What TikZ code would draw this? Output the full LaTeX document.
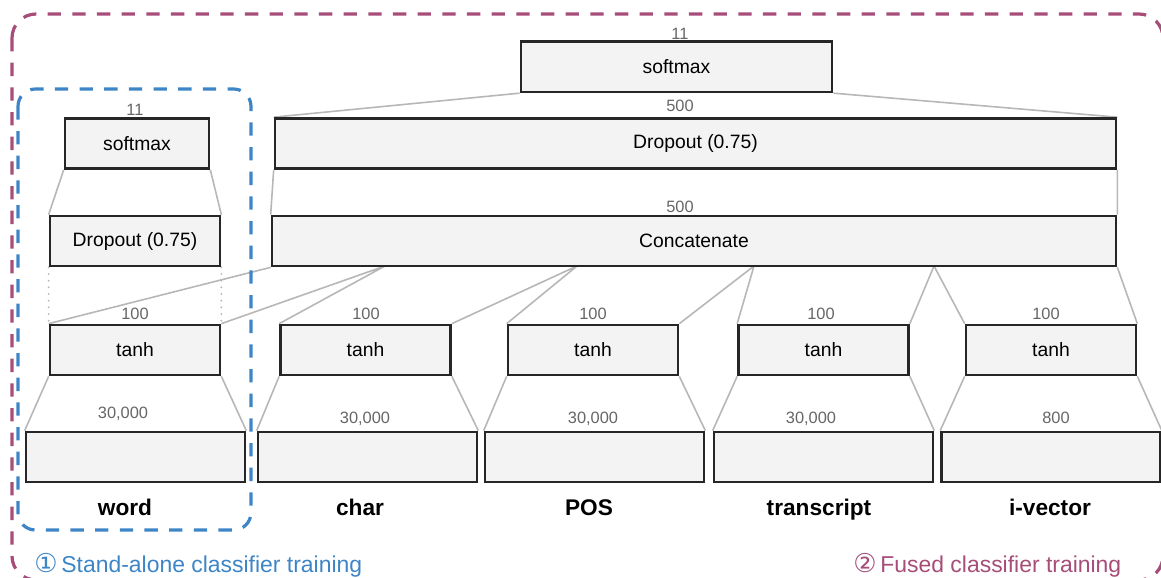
\documentclass[tikz,border=0pt]{standalone}
\usepackage{fontspec}
\setmainfont{Liberation Sans}
\newfontfamily\circfont{DejaVu Sans}
\usepackage{xcolor}
\usepackage{tikz}
\usetikzlibrary{backgrounds}
\definecolor{boxfill}{HTML}{F3F3F3}
\definecolor{wiregray}{HTML}{B7B7B7}
\definecolor{numgray}{HTML}{666666}
\definecolor{soloblue}{HTML}{3D85C6}
\definecolor{fusedplum}{HTML}{A64D79}
\tikzset{layer/.style={draw=black!85,line width=2pt,fill=boxfill,inner sep=0pt,minimum height=37.5pt,font=\fontsize{14.5}{16}\selectfont},tanhbox/.style={layer,minimum width=127.5pt},inbox/.style={layer,minimum width=164.25pt},num/.style={text=numgray,anchor=base,inner sep=0pt,font=\fontsize{12.3}{14}\selectfont},feat/.style={anchor=base,inner sep=0pt,font=\fontsize{17}{19}\selectfont\bfseries},wire/.style={draw=wiregray,line width=1.2pt},group/.style={line width=2.4pt,dash pattern=on 10pt off 8.5pt},caption/.style={anchor=base west,inner sep=0pt,font=\fontsize{17.2}{19}\selectfont}}

\begin{document}
\begin{tikzpicture}[x=0.75pt,y=-0.75pt]
\useasboundingbox (0,0) rectangle (1161,578);
% training groups
\draw[group,draw=fusedplum,rounded corners=18pt] (12,14) rectangle (1163,580);
\draw[group,draw=soloblue,rounded corners=13pt] (18,89) rectangle (251,530);
\node[caption,text=soloblue] (solo) at (34,572) {{\circfont\fontsize{19.5}{20}\selectfont ①}\,Stand-alone classifier training};
\node[caption,text=fusedplum] (fused) at (853,572) {{\circfont\fontsize{19.5}{20}\selectfont ②}\,Fused classifier training};
% stand-alone head
\node[layer,minimum width=108pt] (sm1) at (137,143.5) {softmax};
\node[layer,minimum width=127.5pt] (dr1) at (135,241) {Dropout (0.75)};
\node[num] (n1) at (135,115) {11};
% fused head
\node[layer,minimum width=233.25pt,minimum height=38pt] (sm2) at (676.5,66.5) {softmax};
\node[layer,minimum width=630.75pt] (dr2) at (695.5,143.5) {Dropout (0.75)};
\node[layer,minimum width=633pt] (cc) at (694,241) {Concatenate};
\node[num] (n2) at (680,39) {11};
\node[num] (n3) at (680,111) {500};
\node[num] (n4) at (680,212) {500};
% feature branches
\node[tanhbox] (t1) at (135,350) {tanh};
\node[tanhbox] (t2) at (365.5,350) {tanh};
\node[tanhbox] (t3) at (593,350) {tanh};
\node[tanhbox] (t4) at (823.5,350) {tanh};
\node[tanhbox] (t5) at (1051,350) {tanh};
\node[inbox] (x1) at (135.5,457) {};
\node[inbox] (x2) at (367.5,457) {};
\node[inbox] (x3) at (594.5,457) {};
\node[inbox] (x4) at (823.5,457) {};
\node[inbox] (x5) at (1051,457) {};
\node[num] (h1) at (135,319) {100};
\node[num] (h2) at (366,319) {100};
\node[num] (h3) at (593,319) {100};
\node[num] (h4) at (821,319) {100};
\node[num] (h5) at (1046,319) {100};
\node[num] (d1) at (123,418) {30,000};
\node[num] (d2) at (365,423) {30,000};
\node[num] (d3) at (593,423) {30,000};
\node[num] (d4) at (811,423) {30,000};
\node[num] (d5) at (1056,423) {800};
\node[feat] (f1) at (125,515) {word};
\node[feat] (f2) at (360,515) {char};
\node[feat] (f3) at (589,515) {POS};
\node[feat] (f4) at (819,515) {transcript};
\node[feat] (f5) at (1050,515) {i-vector};
% where each branch meets the concatenation
\coordinate (s1) at (385,266);
\coordinate (s2) at (577,266);
\coordinate (s3) at (754,266);
\coordinate (s4) at (934,266);
\begin{scope}[on background layer]
\draw[wire] (sm1.south west)--(dr1.north west) (sm1.south east)--(dr1.north east);
\draw[wire,line width=1.6pt,line cap=round,dash pattern=on 0pt off 5pt] (dr1.south west)--(t1.north west) (dr1.south east)--(t1.north east);
\draw[wire] (sm2.south west)--(dr2.north west) (sm2.south east)--(dr2.north east);
\draw[wire] (dr2.south west)--(cc.north west) (dr2.south east)--(cc.north east);
\draw[wire] (cc.south west)--(t1.north west) (s1)--(t1.north east) (s1)--(t2.north west) (s2)--(t2.north east) (s2)--(t3.north west);
\draw[wire] (s3)--(t3.north east) (s3)--(t4.north west) (s4)--(t4.north east) (s4)--(t5.north west) (cc.south east)--(t5.north east);
\draw[wire] (t1.south west)--(x1.north west) (t1.south east)--(x1.north east);
\draw[wire] (t2.south west)--(x2.north west) (t2.south east)--(x2.north east);
\draw[wire] (t3.south west)--(x3.north west) (t3.south east)--(x3.north east);
\draw[wire] (t4.south west)--(x4.north west) (t4.south east)--(x4.north east);
\draw[wire] (t5.south west)--(x5.north west) (t5.south east)--(x5.north east);
\end{scope}
\end{tikzpicture}
\end{document}
